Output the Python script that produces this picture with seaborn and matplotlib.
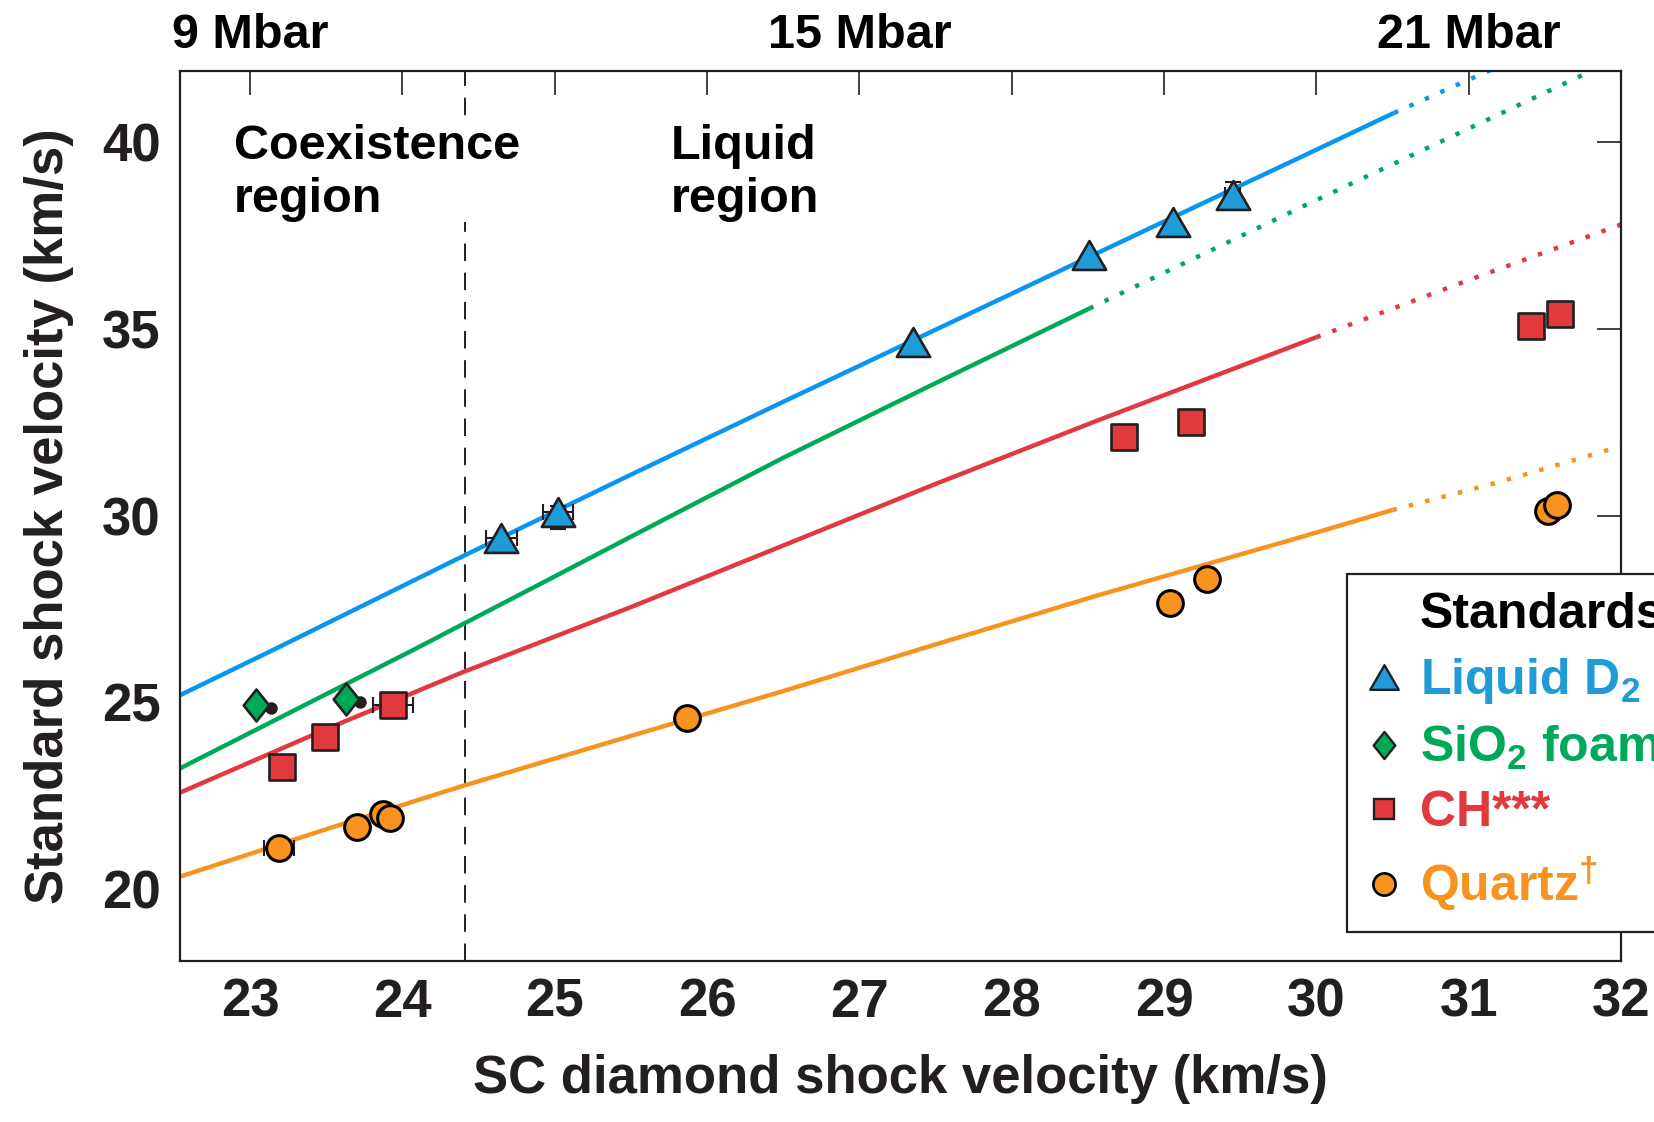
import numpy as np
import pandas as pd
import matplotlib
matplotlib.use("Agg")
import matplotlib.pyplot as plt
import matplotlib.path as mpath
from matplotlib.lines import Line2D
import seaborn as sns

# ---------------- data ----------------
# model curves (x = SC diamond shock velocity, y = standard shock velocity)
d2_curve_x = [22.54, 23.15, 24.34, 25.43, 26.5, 27.35, 28.25, 29.0, 29.885, 30.51, 31.15]
d2_curve_y = [25.19, 26.40, 28.80, 30.96, 33.05, 34.69, 36.43, 37.88, 39.58, 40.79, 41.95]
d2_solid_end = 30.51

sio2_curve_x = [22.54, 24.07, 24.9, 25.62, 26.5, 27.5, 28.51, 29.93, 31.0, 31.85]
sio2_curve_y = [23.23, 26.40, 28.16, 29.69, 31.55, 33.55, 35.55, 38.32, 40.37, 42.0]
sio2_solid_end = 28.51

ch_curve_x = [22.54, 23.5, 24.38, 25.5, 26.5, 27.5, 28.57, 30.0, 31.0, 32.0]
ch_curve_y = [22.58, 24.28, 25.78, 27.55, 29.20, 30.85, 32.56, 34.78, 36.31, 37.80]
ch_solid_end = 30.0

qz_curve_x = [22.54, 23.5, 24.38, 25.5, 26.5, 27.5, 28.57, 29.86, 30.5, 31.2, 32.0]
qz_curve_y = [20.33, 21.60, 22.74, 24.10, 25.30, 26.55, 27.87, 29.38, 30.15, 30.90, 31.86]
qz_solid_end = 30.5

# measured points
d2_x = [24.65, 25.02, 27.35, 28.51, 29.06, 29.45]
d2_y = [29.39, 30.10, 34.65, 36.98, 37.87, 38.59]
d2_xerr = [0.10, 0.10, 0.0, 0.0, 0.0, 0.05]
d2_yerr_low = [0.0, 0.45, 0.0, 0.0, 0.0, 0.0]
d2_yerr_high = [0.0, 0.15, 0.0, 0.0, 0.0, 0.35]

sio2_x = [23.04, 23.63]
sio2_y = [24.93, 25.08]
sio2_dot_x = [23.14, 23.72]
sio2_dot_y = [24.84, 25.00]

ch_x = [23.21, 23.49, 23.94, 28.74, 29.18, 31.41, 31.60]
ch_y = [23.26, 24.06, 24.93, 32.11, 32.52, 35.08, 35.40]
ch_xerr = [0.0, 0.0, 0.13, 0.0, 0.03, 0.0, 0.03]

qz_x = [23.19, 23.70, 23.87, 23.92, 25.87, 29.04, 29.28, 31.52, 31.58]
qz_y = [21.09, 21.65, 22.00, 21.89, 24.59, 27.65, 28.29, 30.12, 30.28]
qz_xerr = [0.10, 0.0, 0.0, 0.0, 0.0, 0.0, 0.03, 0.0, 0.0]

x_ticks = [23, 24, 25, 26, 27, 28, 29, 30, 31, 32]
y_ticks = [20, 25, 30, 35, 40]
top_tick_pos = [23, 27, 31]
top_tick_labels = ["9 Mbar", "15 Mbar", "21 Mbar"]
melt_boundary = 24.41

legend_title = "Standards"
legend_labels = ["Liquid D$_2$", "SiO$_2$ foam", "CH***", "Quartz$^{\\dagger}$"]

# ---------------- style ----------------
sns.set_style("white")
plt.rcParams["font.family"] = ["Liberation Sans", "DejaVu Sans"]
plt.rcParams["font.weight"] = "bold"
plt.rcParams["mathtext.fontset"] = "custom"
plt.rcParams["mathtext.rm"] = "Liberation Sans:bold"
plt.rcParams["mathtext.it"] = "Liberation Sans:bold"
plt.rcParams["mathtext.bf"] = "Liberation Sans:bold"
plt.rcParams["mathtext.sf"] = "Liberation Sans:bold"
plt.rcParams["mathtext.default"] = "rm"

INK = "#231F20"
C_BLUE_LINE = "#0A96F0"
C_BLUE = "#1F9BD7"
C_GREEN = "#00A859"
C_RED = "#E03A3E"
C_ORANGE = "#F7931E"

fig = plt.figure(figsize=(16.54, 11.22), dpi=100)
ax = fig.add_axes([180 / 1654, 1 - 961 / 1122, (1621 - 180) / 1654, (961 - 70.7) / 1122])

# dashed boundary
ax.axvline(melt_boundary, color=INK, lw=1.4, ls=(0, (9, 6)), zorder=1)


def draw_curve(xs, ys, end, color):
    df = pd.DataFrame({"x": xs, "y": ys})
    solid = df[df.x <= end + 1e-9]
    dotted = df[df.x >= end - 1e-9]
    sns.lineplot(data=solid, x="x", y="y", color=color, linewidth=3.2, ax=ax,
                 estimator=None, sort=False, zorder=2, solid_capstyle="butt")
    sns.lineplot(data=dotted, x="x", y="y", color=color, linewidth=3.2, ax=ax,
                 estimator=None, sort=False, zorder=2, linestyle=(0, (1, 2.8)))


draw_curve(d2_curve_x, d2_curve_y, d2_solid_end, C_BLUE_LINE)
draw_curve(sio2_curve_x, sio2_curve_y, sio2_solid_end, C_GREEN)
draw_curve(ch_curve_x, ch_curve_y, ch_solid_end, C_RED)
draw_curve(qz_curve_x, qz_curve_y, qz_solid_end, C_ORANGE)

tri = mpath.Path([(-1, -0.866), (1, -0.866), (0, 0.866), (-1, -0.866)], closed=True)
dia = mpath.Path([(0, 1), (0.8, 0), (0, -1), (-0.8, 0), (0, 1)], closed=True)

# error bars
ax.errorbar(d2_x, d2_y, xerr=d2_xerr, yerr=[d2_yerr_low, d2_yerr_high], fmt="none",
            ecolor=INK, elinewidth=1.5, capsize=6, capthick=1.5, zorder=3)
ax.errorbar(ch_x, ch_y, xerr=ch_xerr, fmt="none", ecolor=INK,
            elinewidth=1.5, capsize=6, capthick=1.5, zorder=3)
ax.errorbar(qz_x, qz_y, xerr=qz_xerr, fmt="none", ecolor=INK,
            elinewidth=1.5, capsize=6, capthick=1.5, zorder=3)

# points
sns.scatterplot(x=sio2_dot_x, y=sio2_dot_y, marker="o", s=9 ** 2, color=INK,
                edgecolor=INK, linewidth=0, ax=ax, zorder=3.5)
sns.scatterplot(x=d2_x, y=d2_y, marker=tri, s=24 ** 2, color=C_BLUE,
                edgecolor=INK, linewidth=1.9, ax=ax, zorder=4)
sns.scatterplot(x=sio2_x, y=sio2_y, marker=dia, s=23 ** 2, color=C_GREEN,
                edgecolor=INK, linewidth=1.9, ax=ax, zorder=4)
sns.scatterplot(x=ch_x, y=ch_y, marker="s", s=19 ** 2, color=C_RED,
                edgecolor=INK, linewidth=1.9, ax=ax, zorder=4)
sns.scatterplot(x=qz_x, y=qz_y, marker="o", s=18.5 ** 2, color=C_ORANGE,
                edgecolor="black", linewidth=2.2, ax=ax, zorder=4)

# axes
ax.set_xlim(22.54, 32.0)
ax.set_ylim(18.07, 41.92)
ax.set_xticks(x_ticks)
ax.set_yticks(y_ticks)
ax.tick_params(axis="both", which="both", direction="in", top=True, right=True,
               length=17, width=1.2, color=INK, labelsize=38, labelcolor=INK)
ax.tick_params(axis="x", pad=12)
ax.tick_params(axis="y", pad=14)
for lab in ax.get_xticklabels() + ax.get_yticklabels():
    lab.set_fontweight("bold")
for sp in ax.spines.values():
    sp.set_color(INK)
    sp.set_linewidth(1.6)
ax.set_xlabel("SC diamond shock velocity (km/s)", fontsize=38, fontweight="bold",
              color=INK, labelpad=19)
ax.set_ylabel("Standard shock velocity (km/s)", fontsize=38, fontweight="bold",
              color=INK, labelpad=20)

secax = ax.secondary_xaxis("top")
secax.set_xticks(top_tick_pos, labels=top_tick_labels)
secax.tick_params(length=0, pad=9, labelsize=35, labelcolor="black")
for lab in secax.get_xticklabels():
    lab.set_fontweight("bold")
secax.spines["top"].set_visible(False)

# region annotations
ax.text(22.895, 40.5, "Coexistence\nregion", fontsize=35, fontweight="bold",
        color="black", ha="left", va="top", linespacing=1.24, zorder=5,
        bbox=dict(facecolor="white", edgecolor="none", pad=0))
ax.text(25.76, 40.5, "Liquid\nregion", fontsize=35, fontweight="bold",
        color="black", ha="left", va="top", linespacing=1.24, zorder=5)

# legend
handles = [
    Line2D([], [], linestyle="none", marker=None),
    Line2D([], [], linestyle="none", marker=tri, markersize=20.5, markerfacecolor=C_BLUE,
           markeredgecolor=INK, markeredgewidth=1.7),
    Line2D([], [], linestyle="none", marker=dia, markersize=19.5, markerfacecolor=C_GREEN,
           markeredgecolor=INK, markeredgewidth=1.7),
    Line2D([], [], linestyle="none", marker="s", markersize=15, markerfacecolor=C_RED,
           markeredgecolor=INK, markeredgewidth=1.7),
    Line2D([], [], linestyle="none", marker="o", markersize=16, markerfacecolor=C_ORANGE,
           markeredgecolor="black", markeredgewidth=1.9),
]
labels = [legend_title] + legend_labels
leg = ax.legend(handles, labels, loc="upper left",
                bbox_to_anchor=(1347 / 1654, 1 - 574 / 1122), bbox_transform=fig.transFigure,
                borderaxespad=0, borderpad=0.36, labelspacing=0.36, handlelength=0.76,
                handletextpad=0.34, fancybox=False, framealpha=1, edgecolor=INK,
                facecolor="white", prop={"size": 36, "weight": "bold"})
leg.get_frame().set_linewidth(1.6)
text_colors = ["black", C_BLUE, C_GREEN, C_RED, C_ORANGE]
for t, c in zip(leg.get_texts(), text_colors):
    t.set_color(c)
leg.set_zorder(10)

fig.savefig("out.png", dpi=100)
